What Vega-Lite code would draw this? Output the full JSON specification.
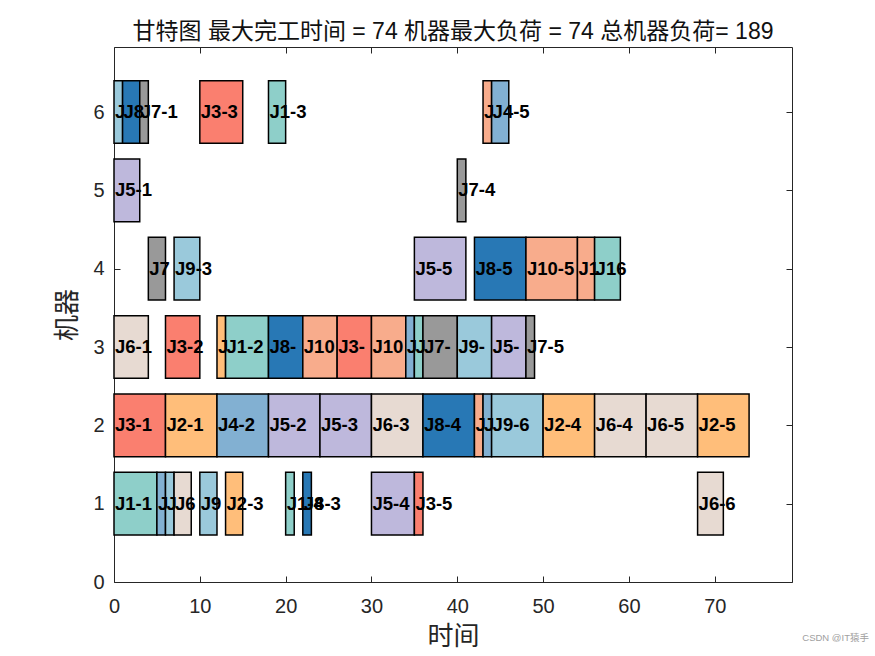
{
  "$schema": "https://vega.github.io/schema/vega-lite/v6.json",
  "width": 678,
  "height": 535,
  "autosize": "none",
  "padding": {"left": 114, "top": 47, "right": 83, "bottom": 74},
  "background": "white",
  "title": {
    "text": "甘特图 最大完工时间 = 74 机器最大负荷 = 74 总机器负荷= 189",
    "font": "Liberation Sans, Noto Sans CJK SC",
    "fontSize": 23,
    "fontWeight": "normal",
    "color": "#111111",
    "offset": 3
  },
  "config": {
    "view": {"stroke": null},
    "axis": {
      "domainColor": "#262626",
      "domainWidth": 1,
      "tickColor": "#262626",
      "tickWidth": 1,
      "tickSize": -6,
      "labelColor": "#262626",
      "labelFont": "Liberation Sans",
      "labelFontSize": 20,
      "labelFlush": false,
      "grid": false,
      "titleFont": "Noto Sans CJK SC",
      "titleFontWeight": "normal",
      "titleFontSize": 26,
      "titleColor": "#262626"
    }
  },
  "data": {
    "values": [
      {"m": 6, "s": 0, "e": 1, "job": "J9", "label": "J"},
      {"m": 6, "s": 1, "e": 3, "job": "J8", "label": "J8"},
      {"m": 6, "s": 3, "e": 4, "job": "J7", "label": "J7-1"},
      {"m": 6, "s": 10, "e": 15, "job": "J3", "label": "J3-3"},
      {"m": 6, "s": 18, "e": 20, "job": "J1", "label": "J1-3"},
      {"m": 6, "s": 43, "e": 44, "job": "J10", "label": "J"},
      {"m": 6, "s": 44, "e": 46, "job": "J4", "label": "J4-5"},
      {"m": 5, "s": 0, "e": 3, "job": "J5", "label": "J5-1"},
      {"m": 5, "s": 40, "e": 41, "job": "J7", "label": "J7-4"},
      {"m": 4, "s": 4, "e": 6, "job": "J7", "label": "J7"},
      {"m": 4, "s": 7, "e": 10, "job": "J9", "label": "J9-3"},
      {"m": 4, "s": 35, "e": 41, "job": "J5", "label": "J5-5"},
      {"m": 4, "s": 42, "e": 48, "job": "J8", "label": "J8-5"},
      {"m": 4, "s": 48, "e": 54, "job": "J10", "label": "J10-5"},
      {"m": 4, "s": 54, "e": 56, "job": "J10", "label": "J1"},
      {"m": 4, "s": 56, "e": 59, "job": "J1", "label": "J16"},
      {"m": 3, "s": 0, "e": 4, "job": "J6", "label": "J6-1"},
      {"m": 3, "s": 6, "e": 10, "job": "J3", "label": "J3-2"},
      {"m": 3, "s": 12, "e": 13, "job": "J2", "label": "J"},
      {"m": 3, "s": 13, "e": 18, "job": "J1", "label": "J1-2"},
      {"m": 3, "s": 18, "e": 22, "job": "J8", "label": "J8-"},
      {"m": 3, "s": 22, "e": 26, "job": "J10", "label": "J10"},
      {"m": 3, "s": 26, "e": 30, "job": "J3", "label": "J3-"},
      {"m": 3, "s": 30, "e": 34, "job": "J10", "label": "J10"},
      {"m": 3, "s": 34, "e": 35, "job": "J4", "label": "J"},
      {"m": 3, "s": 35, "e": 36, "job": "J1", "label": "J"},
      {"m": 3, "s": 36, "e": 40, "job": "J7", "label": "J7-"},
      {"m": 3, "s": 40, "e": 44, "job": "J9", "label": "J9-"},
      {"m": 3, "s": 44, "e": 48, "job": "J5", "label": "J5-"},
      {"m": 3, "s": 48, "e": 49, "job": "J7", "label": "J7-5"},
      {"m": 2, "s": 0, "e": 6, "job": "J3", "label": "J3-1"},
      {"m": 2, "s": 6, "e": 12, "job": "J2", "label": "J2-1"},
      {"m": 2, "s": 12, "e": 18, "job": "J4", "label": "J4-2"},
      {"m": 2, "s": 18, "e": 24, "job": "J5", "label": "J5-2"},
      {"m": 2, "s": 24, "e": 30, "job": "J5", "label": "J5-3"},
      {"m": 2, "s": 30, "e": 36, "job": "J6", "label": "J6-3"},
      {"m": 2, "s": 36, "e": 42, "job": "J8", "label": "J8-4"},
      {"m": 2, "s": 42, "e": 43, "job": "J10", "label": "J"},
      {"m": 2, "s": 43, "e": 44, "job": "J4", "label": "J"},
      {"m": 2, "s": 44, "e": 50, "job": "J9", "label": "J9-6"},
      {"m": 2, "s": 50, "e": 56, "job": "J2", "label": "J2-4"},
      {"m": 2, "s": 56, "e": 62, "job": "J6", "label": "J6-4"},
      {"m": 2, "s": 62, "e": 68, "job": "J6", "label": "J6-5"},
      {"m": 2, "s": 68, "e": 74, "job": "J2", "label": "J2-5"},
      {"m": 1, "s": 0, "e": 5, "job": "J1", "label": "J1-1"},
      {"m": 1, "s": 5, "e": 6, "job": "J4", "label": "J"},
      {"m": 1, "s": 6, "e": 7, "job": "J9", "label": "J"},
      {"m": 1, "s": 7, "e": 9, "job": "J6", "label": "J6"},
      {"m": 1, "s": 10, "e": 12, "job": "J9", "label": "J9"},
      {"m": 1, "s": 13, "e": 15, "job": "J2", "label": "J2-3"},
      {"m": 1, "s": 20, "e": 21, "job": "J1", "label": "J1-4"},
      {"m": 1, "s": 22, "e": 23, "job": "J8", "label": "J8-3"},
      {"m": 1, "s": 30, "e": 35, "job": "J5", "label": "J5-4"},
      {"m": 1, "s": 35, "e": 36, "job": "J3", "label": "J3-5"},
      {"m": 1, "s": 68, "e": 71, "job": "J6", "label": "J6-6"}
    ]
  },
  "transform": [
    {"calculate": "datum.m - 0.4", "as": "y0"},
    {"calculate": "datum.m + 0.4", "as": "y1"}
  ],
  "resolve": {"axis": {"x": "independent", "y": "independent"}},
  "layer": [
    {
      "mark": {"type": "rect", "stroke": "#000000", "strokeWidth": 1.5},
      "encoding": {
        "x": {
          "field": "s", "type": "quantitative",
          "scale": {"domain": [0, 79], "nice": false, "zero": false},
          "axis": {"orient": "bottom", "values": [0, 10, 20, 30, 40, 50, 60, 70], "title": "时间", "labelPadding": 20, "titlePadding": 7}
        },
        "x2": {"field": "e"},
        "y": {
          "field": "y0", "type": "quantitative",
          "scale": {"domain": [0, 6.83], "nice": false, "zero": false},
          "axis": {"orient": "left", "values": [0, 1, 2, 3, 4, 5, 6], "title": "机器", "labelPadding": 16, "titlePadding": 12}
        },
        "y2": {"field": "y1"},
        "color": {
          "field": "job", "type": "nominal", "legend": null,
          "scale": {
            "domain": ["J1", "J2", "J3", "J4", "J5", "J6", "J7", "J8", "J9", "J10"],
            "range": ["#8ECFC9", "#FFBE7A", "#FA7F6F", "#82B0D2", "#BEB8DC", "#E7DAD2", "#999999", "#2878B5", "#9AC9DB", "#F8AC8C"]
          }
        }
      }
    },
    {
      "mark": {"type": "text", "align": "left", "baseline": "middle", "font": "Liberation Sans", "fontSize": 18.5, "fontWeight": "bold", "color": "#000000", "dx": 1},
      "encoding": {
        "x": {"field": "s", "type": "quantitative", "axis": {"orient": "top", "values": [0, 10, 20, 30, 40, 50, 60, 70], "labels": false, "title": null}},
        "y": {"field": "m", "type": "quantitative", "axis": {"orient": "right", "values": [0, 1, 2, 3, 4, 5, 6], "labels": false, "title": null}},
        "text": {"field": "label"}
      }
    },
    {
      "data": {"values": [{"note": "CSDN @IT猿手", "nx": 80.2, "ny": -0.72}]},
      "mark": {"type": "text", "align": "left", "baseline": "middle", "font": "Liberation Sans, Noto Sans CJK SC", "fontSize": 9.5, "color": "#A0A0A0"},
      "encoding": {
        "x": {"field": "nx", "type": "quantitative", "axis": null},
        "y": {"field": "ny", "type": "quantitative", "axis": null},
        "text": {"field": "note"}
      }
    }
  ]
}
